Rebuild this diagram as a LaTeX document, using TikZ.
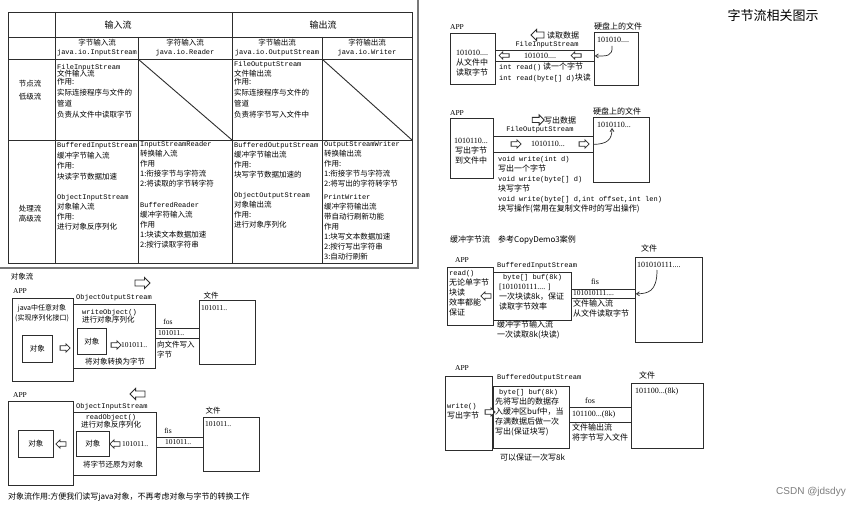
\documentclass[tikz,border=0pt]{standalone}
\usepackage{fontspec}
\setmainfont{Noto Sans CJK SC}
\setmonofont{Liberation Mono}
\newfontfamily\numfont{Liberation Serif}
\newfontfamily\markfont{Liberation Sans}
\usepackage{tikz}
\usetikzlibrary{arrows.meta,positioning,shapes.arrows}
\definecolor{inkgray}{RGB}{45,45,45}
\definecolor{rulegray}{RGB}{120,120,120}
\definecolor{markgray}{RGB}{125,125,125}
\newcommand{\code}[1]{{\ttfamily\fontsize{7}{10}\selectfont #1}}
\newcommand{\bitz}[1]{{\numfont #1}}
\tikzset{
  tbl/.style={draw=inkgray, line width=0.9pt},
  sepline/.style={draw=rulegray, line width=1.2pt},
  box/.style={draw=inkgray, line width=0.8pt, anchor=north west, inner sep=0pt,
              font=\fontsize{7.5}{10}\selectfont},
  pipe/.style={box},
  cell/.style={anchor=north west, align=left, inner sep=0pt,
               font=\fontsize{7.5}{10}\selectfont},
  rcell/.style={cell, font=\fontsize{8}{10}\selectfont},
  txt/.style={inner sep=0pt, font=\fontsize{7.5}{10}\selectfont},
  rtxt/.style={txt, font=\fontsize{8}{10}\selectfont},
  note/.style={txt, anchor=west},
  rnote/.style={rtxt, anchor=west},
  applbl/.style={txt, font=\numfont\fontsize{7.5}{9}\selectfont},
  hollow/.style={single arrow, draw=inkgray, line width=0.8pt, fill=white,
                 inner sep=2.6pt, minimum height=15pt,
                 single arrow head extend=2.6pt},
  hollowsm/.style={hollow, inner sep=1.8pt, minimum height=10pt,
                   single arrow head extend=1.9pt},
  tolft/.style={shape border rotate=180},
  curvearrow/.style={-{Straight Barb[length=3pt,width=4pt]}, line width=0.7pt, draw=inkgray}
}

\begin{document}
\begin{tikzpicture}[x=1pt, y=-1pt]
  \useasboundingbox (0,0) rectangle (865,508);
  \fill[white] (0,0) rectangle (865,508);

  % overview table
  \draw[tbl] (8,12) rectangle (412,263);
  \draw[tbl] (55,12) -- (55,263);
  \draw[tbl] (232,12) -- (232,263);
  \draw[tbl] (138,37) -- (138,263);
  \draw[tbl] (322,37) -- (322,263);
  \draw[tbl] (8,37) -- (412,37);
  \draw[tbl] (8,59) -- (412,59);
  \draw[tbl] (8,140) -- (412,140);
  \draw[tbl] (138,59) -- (232,140);
  \draw[tbl] (322,59) -- (412,140);
  \draw[sepline] (418,0) -- (418,268) -- (0,268);

  \node[txt, font=\fontsize{9}{11}\selectfont] (instream) at (118,25) {输入流};
  \node[txt, font=\fontsize{9}{11}\selectfont] (outstream) at (323,25) {输出流};
  \node[txt, align=center] (hbytein) at (97,48) {字节输入流\\[-1pt]\code{java.io.InputStream}};
  \node[txt, align=center] (hcharin) at (185,48) {字符输入流\\[-1pt]\code{java.io.Reader}};
  \node[txt, align=center] (hbyteout) at (277,48) {字节输出流\\[-1pt]\code{java.io.OutputStream}};
  \node[txt, align=center] (hcharout) at (367,48) {字符输出流\\[-1pt]\code{java.io.Writer}};
  \node[txt, align=center] (lowlvl) at (30,90) {节点流\\[3pt]低级流};
  \node[txt, align=center] (highlvl) at (30,214) {处理流\\高级流};

  \node[cell] (fisCell) at (57,64) {\code{FileInputStream}\\[-3pt]文件输入流\\[-2pt]作用:\\[1pt]实际连接程序与文件的\\[1pt]管道\\[1pt]负责从文件中读取字节};
  \node[cell] (fosCell) at (234,61) {\code{FileOutputStream}\\[0pt]文件输出流\\[-2pt]作用:\\[1pt]实际连接程序与文件的\\[1pt]管道\\[1pt]负责将字节写入文件中};
  \node[cell] (bisCell) at (57,142) {\code{BufferedInputStream}\\[1pt]缓冲字节输入流\\作用:\\[1pt]块读字节数据加速\\[10pt]\code{ObjectInputStream}\\对象输入流\\作用:\\进行对象反序列化};
  \node[cell] (isrCell) at (140,141) {\code{InputStreamReader}\\转换输入流\\作用\\1:衔接字节与字符流\\2:将读取的字节转字符\\[11pt]\code{BufferedReader}\\缓冲字符输入流\\作用\\1:块读文本数据加速\\2:按行读取字符串};
  \node[cell] (bosCell) at (234,142) {\code{BufferedOutputStream}\\缓冲字节输出流\\作用:\\块写字节数据加速的\\[10pt]\code{ObjectOutputStream}\\对象输出流\\作用:\\进行对象序列化};
  \node[cell] (oswCell) at (324,141) {\code{OutputStreamWriter}\\转换输出流\\作用:\\1:衔接字节与字符流\\2:将写出的字符转字节\\[3pt]\code{PrintWriter}\\缓冲字符输出流\\带自动行刷新功能\\作用\\1:块写文本数据加速\\2:按行写出字符串\\3:自动行刷新};

  % object streams, writing
  \node[txt] (objTitle) at (22,277) {对象流};
  \node[hollow] (objOut) at (141,283) {};
  \node[applbl] (appAlbl) at (20,291) {APP};
  \node[box, minimum width=61pt, minimum height=83pt] (appA) at (12,298) {};
  \node[txt, align=center, font=\fontsize{7}{10}\selectfont] (anyObj) at (42,313) {java中任意对象\\(实现序列化接口)};
  \node[box, minimum width=30pt, minimum height=27pt] (objA) at (22,335) {对象};
  \node[hollowsm] (objInA) at (64,348) {};
  \node[note, anchor=south west] (oosLbl) at (76,301) {\code{ObjectOutputStream}};
  \node[box, minimum width=82pt, minimum height=64pt] (oos) at (73,304) {};
  \node[cell] (writeObj) at (82,309) {\code{writeObject()}\\[-2pt]进行对象序列化};
  \node[box, minimum width=29pt, minimum height=26pt] (objB) at (77,328) {对象};
  \node[hollowsm] (objInB) at (115,345) {};
  \node[note] (bitsB) at (121,345) {\bitz{101011..}};
  \node[txt] (toBytes) at (115,362) {将对象转换为字节};
  \node[pipe, minimum width=44pt, minimum height=10pt] (fosA) at (155,328) {};
  \node[txt, font=\numfont\fontsize{7.5}{9}\selectfont] (fosAlbl) at (168,322) {fos};
  \node[note] (fosAbits) at (158,333) {\bitz{101011..}};
  \node[cell] (fosAnote) at (157,341) {向文件写入\\字节};
  \node[box, minimum width=56pt, minimum height=64pt] (fileA) at (199,300) {};
  \node[txt] (fileAlbl) at (211,296) {文件};
  \node[note] (fileAbits) at (201,308) {\bitz{101011..}};

  % object streams, reading
  \node[hollow, tolft] (objBack) at (139,394) {};
  \node[applbl] (appBlbl) at (20,395) {APP};
  \node[box, minimum width=65pt, minimum height=84pt] (appB) at (8,401) {};
  \node[box, minimum width=35pt, minimum height=27pt] (objC) at (18,430) {对象};
  \node[hollowsm, tolft] (objBackC) at (62,444) {};
  \node[note, anchor=south west] (oisLbl) at (76,410) {\code{ObjectInputStream}};
  \node[box, minimum width=83pt, minimum height=63pt] (ois) at (73,412) {};
  \node[txt, align=center] (readObj) at (111,421) {\code{readObject()}\\[-2pt]进行对象反序列化};
  \node[box, minimum width=33pt, minimum height=25pt] (objD) at (76,431) {对象};
  \node[hollowsm, tolft] (objBackD) at (116,444) {};
  \node[note] (bitsD) at (122,444) {\bitz{101011..}};
  \node[txt] (toObj) at (113,465) {将字节还原为对象};
  \node[pipe, minimum width=47pt, minimum height=10pt] (fisA) at (156,437) {};
  \node[txt, font=\numfont\fontsize{7.5}{9}\selectfont] (fisAlbl) at (168,431) {fis};
  \node[note] (fisAbits) at (165,442) {\bitz{101011..}};
  \node[box, minimum width=56pt, minimum height=54pt] (fileB) at (203,417) {};
  \node[txt] (fileBlbl) at (213,411) {文件};
  \node[note] (fileBbits) at (205,424) {\bitz{101011..}};
  \node[note, font=\fontsize{8}{10}\selectfont] (objUse) at (8,497) {对象流作用:方便我们读写java对象，不再考虑对象与字节的转换工作};

  % title
  \node[txt, font=\fontsize{13}{15}\selectfont] (title) at (773,16) {字节流相关图示};

  % FileInputStream
  \node[applbl] (appR1lbl) at (457,27) {APP};
  \node[box, minimum width=45pt, minimum height=51pt] (appR1) at (450,33) {};
  \node[rcell, align=center, anchor=north] (appR1txt) at (472,50) {\bitz{101010....}\\从文件中\\读取字节};
  \node[hollow, tolft, minimum height=13pt] (readArrow) at (539,35) {};
  \node[rnote] (readData) at (547,35) {读取数据};
  \node[txt] (fisR1lbl) at (547,45) {\code{FileInputStream}};
  \node[pipe, minimum width=99pt, minimum height=11pt] (pipeR1) at (495,50) {};
  \node[hollowsm, tolft, inner sep=1.4pt] (pipeR1a) at (505,55.5) {};
  \node[rtxt] (pipeR1bits) at (540,55.5) {\bitz{101010....}};
  \node[hollowsm, tolft, inner sep=1.4pt] (pipeR1b) at (577,55.5) {};
  \node[rcell] (readOps) at (499,63) {\code{int read()} 读一个字节\\[1pt]\code{int read(byte[] d)}块读};
  \node[box, minimum width=44pt, minimum height=53pt] (fileR1) at (594,32) {};
  \node[rnote, above=2pt of fileR1.north west, anchor=south west] (fileR1lbl) {硬盘上的文件};
  \node[rnote] (fileR1bits) at (597,40) {\bitz{101010....}};
  \coordinate (r1src) at (612,46);
  \draw[curvearrow] (r1src) .. controls (613,57) and (606,56) .. (pipeR1.east);

  % FileOutputStream
  \node[applbl] (appR2lbl) at (457,113) {APP};
  \node[box, minimum width=43pt, minimum height=60pt] (appR2) at (450,118) {};
  \node[rcell, align=center, anchor=north] (appR2txt) at (471,138) {\bitz{1010110...}\\写出字节\\到文件中};
  \node[hollow, inner sep=2.2pt, minimum height=12pt] (writeArrow) at (537,120) {};
  \node[rnote] (writeData) at (544,120) {写出数据};
  \node[txt] (fosR2lbl) at (540,130) {\code{FileOutputStream}};
  \node[pipe, minimum width=100pt, minimum height=16pt] (pipeR2) at (493,136) {};
  \node[hollowsm] (pipeR2a) at (515,144) {};
  \node[rtxt] (pipeR2bits) at (548,144) {\bitz{1010110...}};
  \node[hollowsm] (pipeR2b) at (583,144) {};
  \node[rcell] (writeOps) at (498,156) {\code{void write(int d)}\\写出一个字节\\\code{void write(byte[] d)}\\块写字节\\\code{void write(byte[] d,int offset,int len)}\\块写操作(常用在复制文件时的写出操作)};
  \node[box, minimum width=56pt, minimum height=65pt] (fileR2) at (593,117) {};
  \node[rnote, above=2pt of fileR2.north west, anchor=south west] (fileR2lbl) {硬盘上的文件};
  \node[rnote] (fileR2bits) at (597,125) {\bitz{1010110...}};
  \coordinate (r2dst) at (612,128);
  \draw[curvearrow] (pipeR2.east) .. controls (607,144) and (612,140) .. (r2dst);

  % BufferedInputStream
  \node[rnote] (bufTitle) at (450,240) {缓冲字节流\quad 参考CopyDemo3案例};
  \node[applbl] (appR3lbl) at (462,260) {APP};
  \node[box, minimum width=46pt, minimum height=58pt] (appR3) at (447,267) {};
  \node[rcell] (appR3txt) at (449,270) {\code{read()}\\无论单字节\\块读\\效率都能\\保证};
  \node[hollowsm, tolft] (bufBack) at (487,296) {};
  \node[note, anchor=south west] (bisR3lbl) at (497,269) {\code{BufferedInputStream}};
  \node[box, minimum width=78pt, minimum height=48pt] (bisR3) at (493,272) {};
  \node[rcell] (bufR3) at (499,274) {\hspace*{4pt}\code{byte[] buf(8k)}\\\bitz{[101010111.... ]}\\一次块读8k，保证\\读取字节效率};
  \node[rcell] (bufR3note) at (497,321) {缓冲字节输入流\\一次读取8k(块读)};
  \node[pipe, minimum width=64pt, minimum height=9pt] (pipeR3) at (571,289) {};
  \node[txt, font=\numfont\fontsize{8}{9}\selectfont] (fisR3lbl) at (595,282) {fis};
  \node[note] (pipeR3bits) at (573,293.5) {\bitz{101010111....}};
  \node[rcell] (fisR3note) at (573,300) {文件输入流\\从文件读取字节};
  \node[box, minimum width=67pt, minimum height=85pt] (fileR3) at (635,257) {};
  \node[rtxt] (fileR3lbl) at (649,248) {文件};
  \node[rnote] (fileR3bits) at (637,265) {\bitz{101010111....}};
  \coordinate (r3src) at (657,270);
  \draw[curvearrow] (r3src) .. controls (657,292) and (648,293.5) .. (pipeR3.east);

  % BufferedOutputStream
  \node[applbl] (appR4lbl) at (462,368) {APP};
  \node[box, minimum width=47pt, minimum height=74pt] (appR4) at (445,376) {};
  \node[rcell] (appR4txt) at (447,403) {\code{write()}\\写出字节};
  \node[hollowsm] (bufFwd) at (489,412) {};
  \node[note, anchor=south west] (bosR4lbl) at (497,381) {\code{BufferedOutputStream}};
  \node[box, minimum width=76pt, minimum height=62pt] (bosR4) at (493,386) {};
  \node[rcell] (bufR4) at (495,389) {\hspace*{4pt}\code{byte[] buf(8k)}\\先将写出的数据存\\入缓冲区buf中，当\\存满数据后做一次\\写出(保证块写)};
  \node[rnote] (bufR4note) at (500,457) {可以保证一次写8k};
  \node[pipe, minimum width=62pt, minimum height=15pt] (pipeR4) at (569,407) {};
  \node[txt, font=\numfont\fontsize{8}{9}\selectfont] (fosR4lbl) at (590,401) {fos};
  \node[rnote] (pipeR4bits) at (572,414.5) {\bitz{101100...(8k)}};
  \node[rcell] (fosR4note) at (572,424) {文件输出流\\将字节写入文件};
  \node[box, minimum width=72pt, minimum height=65pt] (fileR4) at (631,383) {};
  \node[rtxt] (fileR4lbl) at (647,375) {文件};
  \node[rnote] (fileR4bits) at (635,392) {\bitz{101100...(8k)}};

  \node[txt, font=\markfont\fontsize{10}{12}\selectfont, text=markgray] (csdn) at (811,492) {CSDN @jdsdyy};
\end{tikzpicture}
\end{document}
